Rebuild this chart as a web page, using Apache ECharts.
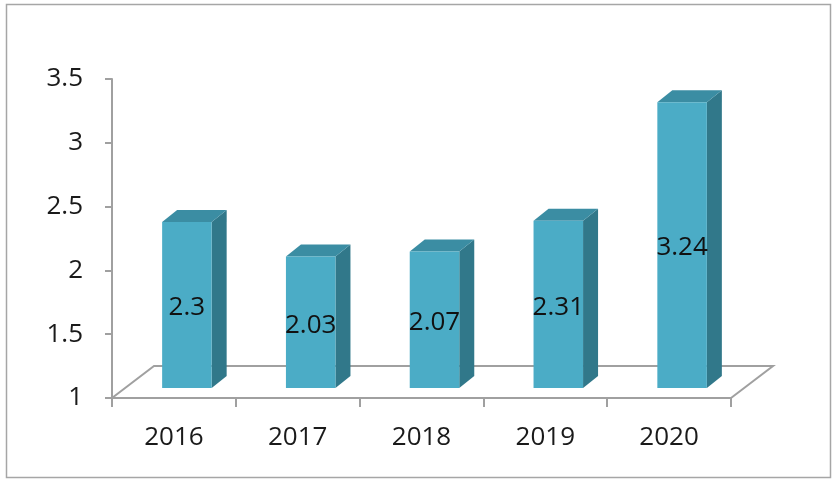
<!DOCTYPE html>
<html>
<head>
<meta charset="utf-8">
<script src="https://cdn.jsdelivr.net/npm/echarts@6/dist/echarts.min.js"></script>
<style>
html,body{margin:0;padding:0;background:#fff;}
#chart{width:837px;height:483px;}
</style>
</head>
<body>
<div id="chart"></div>
<script>
const categories = ['2016', '2017', '2018', '2019', '2020'];
const values = [2.3, 2.03, 2.07, 2.31, 3.24];
const yMin = 1, yMax = 3.5, yStep = 0.5;

const FONT = '"Open Sans", Lato, sans-serif';
const FRONT = '#4BACC6', SIDE = '#31788A', TOP = '#3B8DA3';
const AXIS = '#A0A0A0';

const chart = echarts.init(document.getElementById('chart'));

function floorItem(params, api) {
  const cs = params.coordSys;
  const fx = cs.x, fy = cs.y + cs.height, w = cs.width;
  const dx = 42, dy = -32;
  return {
    type: 'polyline',
    shape: { points: [[fx, fy], [fx + dx, fy + dy], [fx + w + dx, fy + dy], [fx + w, fy]] },
    style: { stroke: AXIS, lineWidth: 2, fill: null }
  };
}

function barItem(params, api) {
  const i = api.value(0), v = api.value(1);
  const cx = api.coord([i, v])[0];
  const yt0 = api.coord([i, v])[1];
  const yb0 = api.coord([i, yMin])[1];
  const bw = api.size([1, 0])[0] * 0.4;
  const ox = 13, oy = -10, ddx = 15, ddy = -12;
  const x0 = cx + ox - bw / 2, x1 = x0 + bw;
  const yb = yb0 + oy, yt = yt0 + oy;
  return {
    type: 'group',
    children: [
      { type: 'polygon', shape: { points: [[x1, yb], [x1 + ddx, yb + ddy], [x1 + ddx, yt + ddy], [x1, yt]] },
        style: { fill: SIDE } },
      { type: 'polygon', shape: { points: [[x0, yt], [x0 + ddx, yt + ddy], [x1 + ddx, yt + ddy], [x1, yt]] },
        style: { fill: TOP } },
      { type: 'rect', shape: { x: x0, y: yt, width: bw, height: yb - yt },
        style: { fill: FRONT } },
      { type: 'text', x: (x0 + x1) / 2, y: (yt + yb) / 2 + 3,
        style: { text: String(v), fill: '#111', font: '26px ' + FONT, align: 'center', verticalAlign: 'middle' } }
    ]
  };
}

chart.setOption({
  backgroundColor: '#fff',
  animation: false,
  graphic: [{
    type: 'rect', shape: { x: 6.5, y: 4.5, width: 824, height: 473 },
    style: { fill: null, stroke: '#A6A6A6', lineWidth: 1.5 }, z: 0
  }],
  grid: { left: 112, right: 106, top: 79, bottom: 85 },
  xAxis: {
    type: 'category',
    data: categories,
    axisLine: { lineStyle: { color: AXIS, width: 2 } },
    axisTick: { show: true, length: 9, lineStyle: { color: AXIS, width: 2 } },
    axisLabel: { color: '#1a1a1a', fontSize: 26, fontFamily: FONT, margin: 27 },
    splitLine: { show: false }
  },
  yAxis: {
    type: 'value', min: yMin, max: yMax, interval: yStep,
    axisLine: { show: true, lineStyle: { color: AXIS, width: 2 } },
    axisTick: { show: true, length: 7, lineStyle: { color: AXIS, width: 2 } },
    axisLabel: { color: '#1a1a1a', fontSize: 26, fontFamily: FONT, margin: 29, padding: [5, 0, 0, 0] },
    splitLine: { show: false }
  },
  series: [
    { type: 'custom', data: [[0, yMin]], renderItem: floorItem, z: 1 },
    { type: 'custom', data: values.map((v, i) => [i, v]), renderItem: barItem, z: 2 }
  ]
});
</script>
</body>
</html>
